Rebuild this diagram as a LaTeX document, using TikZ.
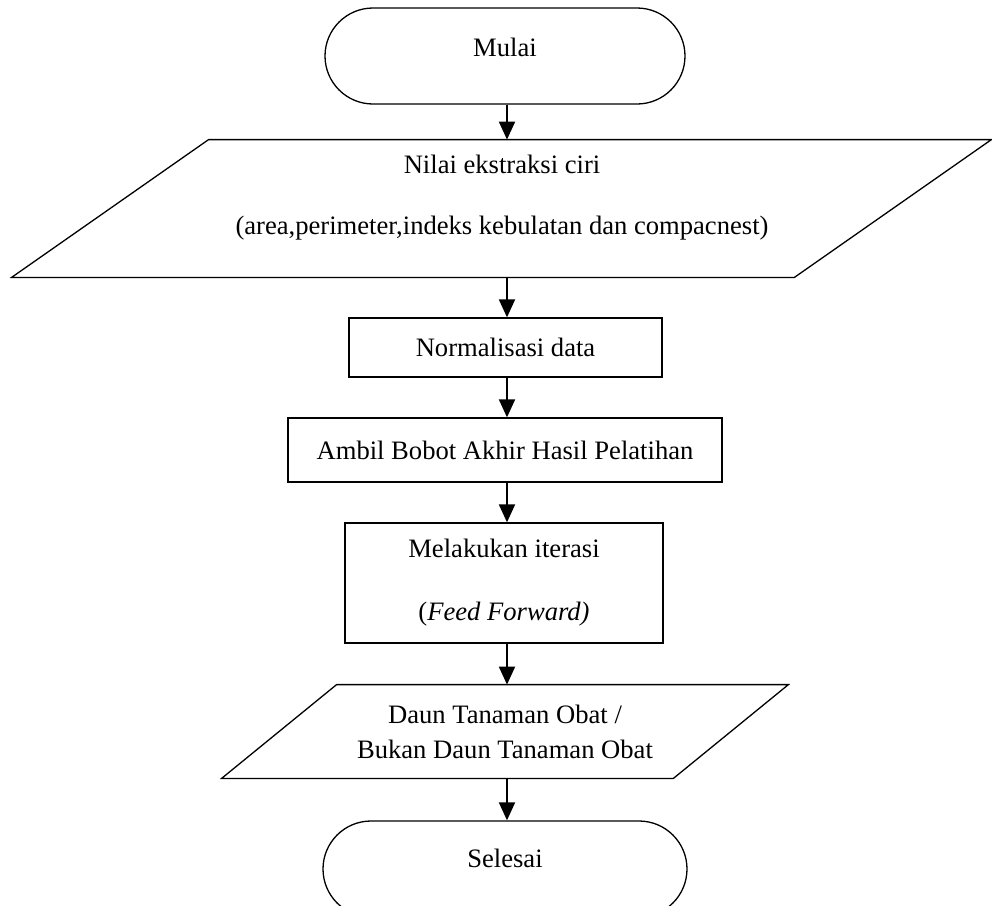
\documentclass[tikz,border=0pt]{standalone}
\usepackage{fontspec}
\setmainfont{Liberation Serif}
\usetikzlibrary{arrows.meta,calc}
\begin{document}
\begin{tikzpicture}[x=0.5pt,y=-0.5pt,
  font=\fontsize{13.3}{16}\selectfont,
  box/.style={draw,line width=0.65pt,inner sep=0pt,align=center},
  term/.style={draw,line width=0.65pt,rounded corners=24pt,minimum width=180pt,minimum height=48pt,inner sep=0pt},
  ghost/.style={inner sep=0pt},
  outline/.style={line width=0.65pt},
  arr/.style={line width=1pt,-{Triangle[width=8pt,length=9pt]}},
]
\useasboundingbox (0,0) rectangle (992,906);
\clip (0,0) rectangle (992,906);

% start
\node[term] (mulai) at (505,56) {};
\node (mulaitxt) at (505,47) {Mulai};

% input parallelogram
\node[ghost,minimum width=391pt,minimum height=68.5pt] (p1) at (501.5,208.5) {};
\draw[outline] ([xshift=49.25pt]p1.north west) -- ([xshift=49.25pt]p1.north east)
  -- ([xshift=-49.25pt]p1.south east) -- ([xshift=-49.25pt]p1.south west) -- cycle;
\node[align=center,font=\fontsize{13.3}{30.5}\selectfont] (p1txt) at (502,197.5)
  {Nilai ekstraksi ciri\\(area,perimeter,indeks kebulatan dan compacnest)};

% process boxes
\node[box,minimum width=156.5pt,minimum height=29.5pt] (norm) at (505.5,347.5) {Normalisasi data};
\node[box,minimum width=217pt,minimum height=32pt] (ambil) at (505,450) {Ambil Bobot Akhir Hasil Pelatihan};
\node[box,minimum width=159pt,minimum height=60pt,font=\fontsize{13.3}{31.5}\selectfont] (iter) at (504,583)
  {Melakukan iterasi\\(\textit{Feed Forward)}};

% output parallelogram
\node[ghost,minimum width=225.5pt,minimum height=46.5pt,align=center,font=\fontsize{13.3}{17.5}\selectfont] (p2) at (505,731.5)
  {Daun Tanaman Obat /\\Bukan Daun Tanaman Obat};
\draw[outline] ([xshift=28.75pt]p2.north west) -- ([xshift=28.75pt]p2.north east)
  -- ([xshift=-28.75pt]p2.south east) -- ([xshift=-28.75pt]p2.south west) -- cycle;

% end
\node[term,minimum width=182pt] (selesai) at (505,869) {};
\node (selesaitxt) at (505,858) {Selesai};

% connectors
\coordinate (ax) at (507,0);
\draw[arr] (mulai.south -| ax) -- (p1.north -| ax);
\draw[arr] (p1.south -| ax) -- (norm.north -| ax);
\draw[arr] (norm.south -| ax) -- (ambil.north -| ax);
\draw[arr] (ambil.south -| ax) -- (iter.north -| ax);
\draw[arr] (iter.south -| ax) -- (p2.north -| ax);
\draw[arr] (p2.south -| ax) -- (selesai.north -| ax);
\end{tikzpicture}
\end{document}
